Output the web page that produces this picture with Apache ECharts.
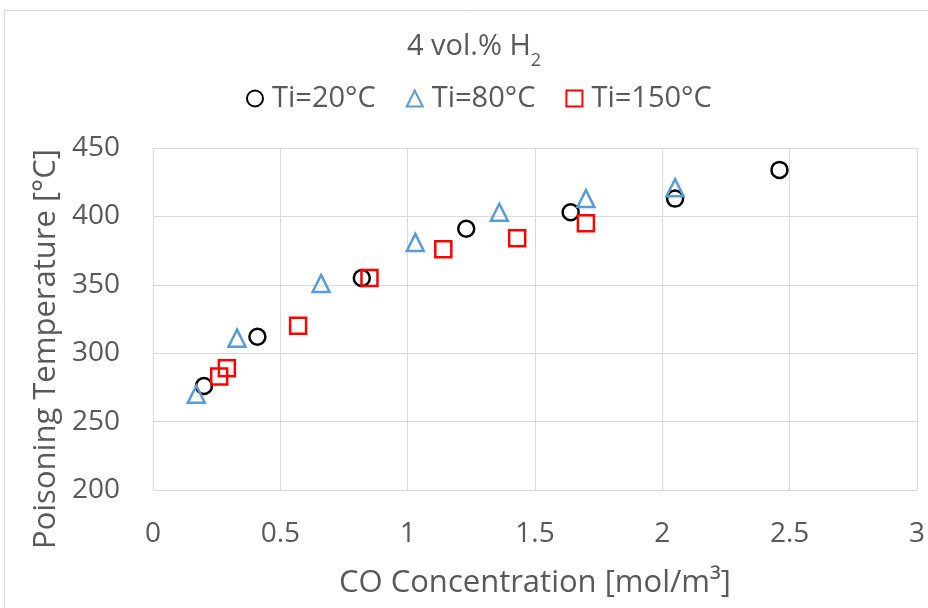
<!DOCTYPE html>
<html>
<head>
<meta charset="utf-8">
<script src="https://cdn.jsdelivr.net/npm/echarts@6/dist/echarts.min.js"></script>
<style>
html, body { margin: 0; padding: 0; background: #fff; }
#chart { width: 928px; height: 608px; }
</style>
</head>
<body>
<div id="chart"></div>
<script>
// data
var seriesNames = ['Ti=20°C', 'Ti=80°C', 'Ti=150°C'];
var ti20 = [[0.20, 276], [0.41, 312], [0.82, 355], [1.23, 391], [1.64, 403], [2.05, 413], [2.46, 434]];
var ti80 = [[0.17, 270], [0.33, 311], [0.66, 351], [1.03, 381], [1.36, 403], [1.70, 413], [2.05, 421]];
var ti150 = [[0.26, 283], [0.29, 289], [0.57, 320], [0.85, 355], [1.14, 376], [1.43, 384], [1.70, 395]];
var xTicks = [0, 0.5, 1, 1.5, 2, 2.5, 3];
var yTicks = [200, 250, 300, 350, 400, 450];

var FONT = '"Open Sans", sans-serif';
var GREY = '#595959';

function mkSeries(name, data, symbol, color, size) {
    return {
        name: name,
        type: 'scatter',
        data: data,
        symbol: symbol,
        symbolSize: size,
        itemStyle: {
            color: 'rgba(255,255,255,0)',
            borderColor: color,
            borderWidth: 2.5,
            opacity: 1
        },
        emphasis: { disabled: true }
    };
}

var chart = echarts.init(document.getElementById('chart'));
var option = {
    animation: false,
    backgroundColor: '#fff',
    legend: {
        top: 79,
        left: 241,
        itemWidth: 16,
        itemHeight: 16,
        itemGap: 30,
        data: seriesNames,
        textStyle: { fontFamily: FONT, fontSize: 29, color: GREY, padding: [0, 0, 0, 4] }
    },
    graphic: [{
        type: 'rect',
        shape: { x: 4.5, y: 10.5, width: 940, height: 620 },
        style: { fill: null, stroke: '#d9d9d9', lineWidth: 1 },
        silent: true
    }, {
        // chart title with subscript
        type: 'text',
        x: 474,
        y: 47,
        silent: true,
        style: {
            text: '{a|4 vol.% H}{sub|2}',
            align: 'center',
            verticalAlign: 'middle',
            rich: {
                a: { fontFamily: FONT, fontSize: 29, fill: GREY, lineHeight: 46, verticalAlign: 'middle' },
                sub: { fontFamily: FONT, fontSize: 18, fill: GREY, lineHeight: 46, verticalAlign: 'bottom' }
            }
        }
    }, {
        // y axis title
        type: 'text',
        x: 46,
        y: 349,
        rotation: Math.PI / 2,
        silent: true,
        style: {
            text: 'Poisoning Temperature [°C]',
            align: 'center',
            verticalAlign: 'middle',
            fontFamily: FONT,
            fontSize: 31,
            fill: GREY
        }
    }],
    grid: { left: 153, right: 9, top: 148, bottom: 118 },
    xAxis: {
        type: 'value',
        min: xTicks[0],
        max: xTicks[xTicks.length - 1],
        interval: 0.5,
        name: 'CO Concentration [mol/m³]',
        nameLocation: 'middle',
        nameGap: 78,
        nameTextStyle: { fontFamily: FONT, fontSize: 31, color: GREY },
        axisLine: { show: false },
        axisTick: { show: false },
        axisLabel: { fontFamily: FONT, fontSize: 28, color: GREY, margin: 30 },
        splitLine: { show: true, lineStyle: { color: '#d9d9d9', width: 1 } }
    },
    yAxis: {
        type: 'value',
        min: yTicks[0],
        max: yTicks[yTicks.length - 1],
        interval: 50,
        axisLine: { show: false },
        axisTick: { show: false },
        axisLabel: { fontFamily: FONT, fontSize: 28, color: GREY, margin: 33 },
        splitLine: { show: true, lineStyle: { color: '#d9d9d9', width: 1 } }
    },
    series: [
        mkSeries(seriesNames[0], ti20, 'circle', '#000000', 16),
        mkSeries(seriesNames[1], ti80, 'triangle', '#5b9bd5', 17),
        mkSeries(seriesNames[2], ti150, 'rect', '#ff0000', 16)
    ]
};
chart.setOption(option);
</script>
</body>
</html>
